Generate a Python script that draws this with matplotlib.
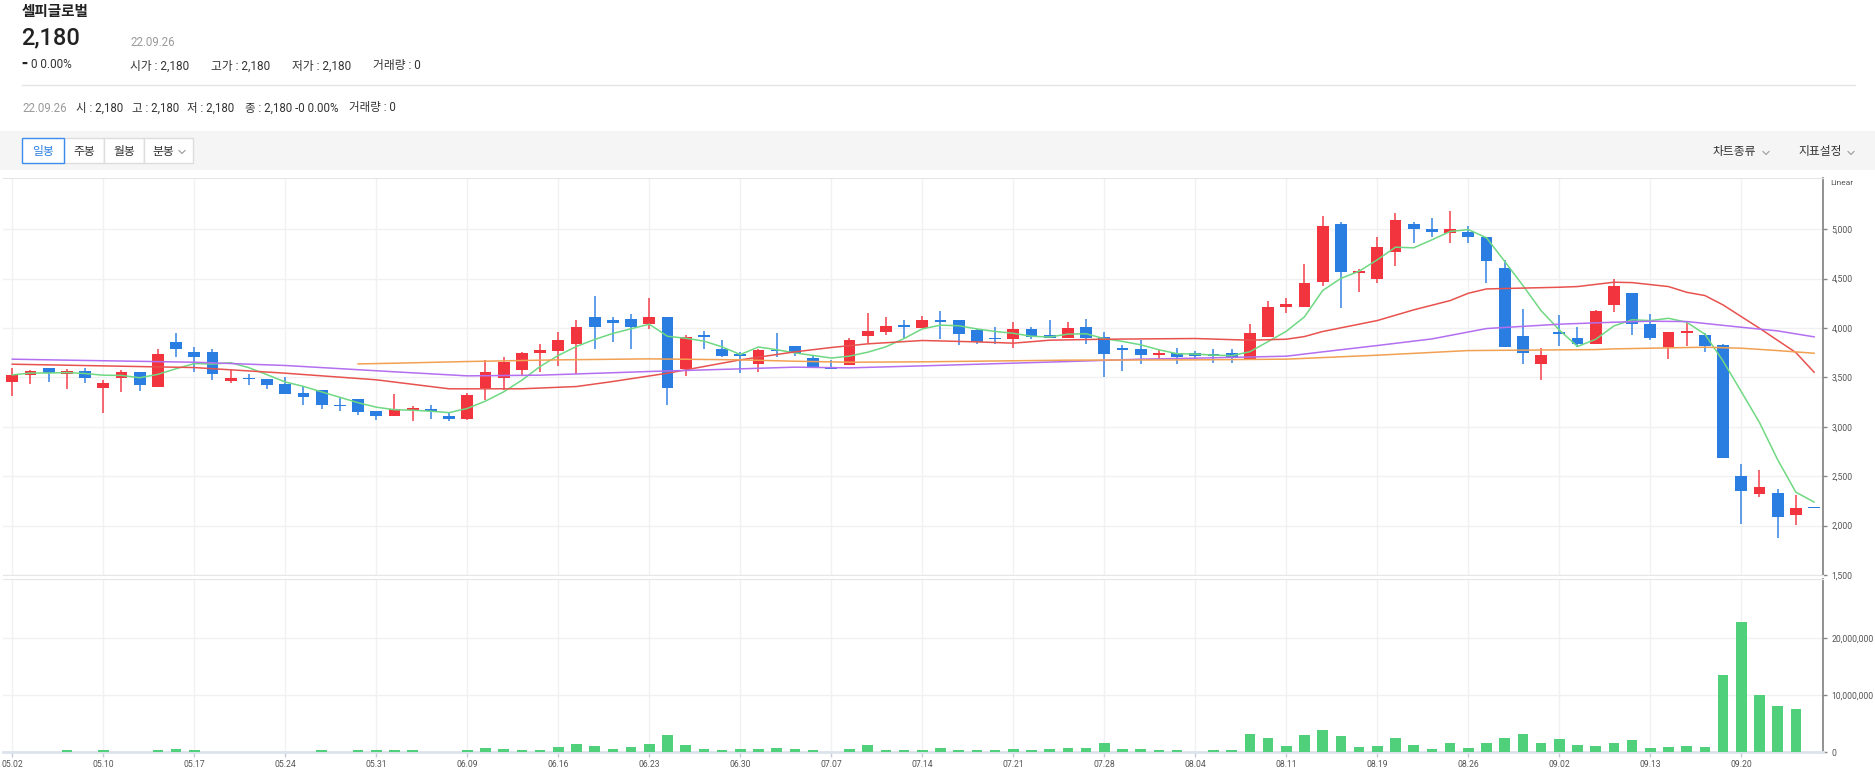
import numpy as np
import pandas as pd
import matplotlib
matplotlib.use('Agg')
import matplotlib.pyplot as plt
from matplotlib.patches import Rectangle
from matplotlib.lines import Line2D
from matplotlib.ticker import FuncFormatter

plt.rcParams['font.family'] = ['Roboto', 'Noto Sans CJK KR', 'DejaVu Sans']
plt.rcParams['axes.unicode_minus'] = False

# ---- data ----
name = '셀피글로벌'
holidays = ['2022-05-05', '2022-06-01', '2022-06-06', '2022-08-15', '2022-09-09', '2022-09-12']
dates = pd.bdate_range('2022-05-02', '2022-09-26', freq='C', holidays=holidays)

opens = [3449, 3520, 3597, 3530, 3563, 3398, 3499, 3553, 3408, 3860,
         3762, 3762, 3462, 3496, 3489, 3435, 3344, 3371, 3226, 3280,
         3162, 3108, 3172, 3182, 3105, 3081, 3395, 3499, 3580, 3745,
         3772, 3840, 4116, 4086, 4089, 4042, 4110, 3587, 3927, 3786,
         3735, 3631, 3779, 3816, 3695, 3600, 3627, 3917, 3965, 4029,
         3998, 4079, 4079, 3978, 3897, 3890, 3988, 3934, 3904, 4008,
         3907, 3796, 3789, 3729, 3749, 3752, 3735, 3745, 3675, 3907,
         4211, 4211, 4470, 5054, 4561, 4501, 4767, 5054, 5007, 4966,
         4973, 4919, 4609, 3917, 3634, 3954, 3904, 3840, 4238, 4359,
         4042, 3806, 3954, 3934, 3826, 2504, 2319, 2329, 2107, 2180]
highs = [3597, 3577, 3597, 3584, 3597, 3476, 3577, 3553, 3789, 3948,
         3813, 3789, 3577, 3530, 3489, 3503, 3418, 3371, 3307, 3280,
         3162, 3337, 3209, 3223, 3145, 3344, 3678, 3705, 3762, 3840,
         3961, 4083, 4325, 4110, 4143, 4309, 4110, 3934, 3971, 3877,
         3759, 3789, 3951, 3816, 3722, 3678, 3900, 4153, 4113, 4083,
         4126, 4174, 4079, 3992, 4012, 4062, 4008, 4083, 4062, 4093,
         3961, 3826, 3880, 3779, 3799, 3772, 3789, 3789, 4046, 4275,
         4309, 4646, 5135, 5071, 4599, 4919, 5165, 5071, 5111, 5185,
         5034, 4919, 4690, 4190, 3799, 4133, 4012, 4184, 4494, 4359,
         4143, 3958, 4062, 3954, 3840, 2626, 2565, 2373, 2312, 2180]
lows = [3317, 3435, 3455, 3388, 3439, 3135, 3348, 3361, 3408, 3708,
        3560, 3479, 3439, 3425, 3381, 3334, 3216, 3176, 3165, 3115,
        3074, 3108, 3064, 3078, 3064, 3074, 3267, 3368, 3526, 3560,
        3611, 3536, 3786, 3863, 3786, 3992, 3216, 3519, 3783, 3702,
        3540, 3553, 3702, 3712, 3594, 3590, 3624, 3850, 3931, 3897,
        3998, 3894, 3833, 3843, 3843, 3796, 3894, 3897, 3904, 3843,
        3509, 3570, 3641, 3685, 3634, 3685, 3644, 3651, 3675, 3907,
        4157, 4211, 4427, 4207, 4362, 4460, 4629, 4865, 4919, 4858,
        4858, 4460, 3809, 3634, 3476, 3823, 3806, 3840, 4160, 3934,
        3880, 3691, 3823, 3762, 2680, 2012, 2285, 1877, 2002, 2180]
closes = [3526, 3563, 3546, 3563, 3499, 3442, 3553, 3428, 3735, 3783,
          3702, 3530, 3496, 3482, 3428, 3334, 3307, 3216, 3209, 3155,
          3108, 3179, 3189, 3159, 3084, 3320, 3550, 3658, 3749, 3776,
          3880, 4008, 4008, 4056, 4012, 4110, 3398, 3907, 3911, 3722,
          3722, 3779, 3769, 3749, 3594, 3590, 3877, 3968, 4019, 4015,
          4079, 4066, 3938, 3857, 3887, 3988, 3914, 3900, 4005, 3904,
          3739, 3776, 3729, 3752, 3705, 3722, 3722, 3702, 3951, 4217,
          4244, 4454, 5034, 4565, 4578, 4824, 5091, 5003, 4969, 5000,
          4922, 4676, 3809, 3749, 3725, 3944, 3840, 4170, 4427, 4039,
          3900, 3958, 3971, 3820, 2680, 2353, 2393, 2086, 2180, 2180]
volumes = [0.06, 0.03, 0.05, 0.29, 0.06, 0.35, 0.06, 0.06, 0.29, 0.53,
           0.29, 0.06, 0.06, 0.06, 0.06, 0.06, 0.06, 0.29, 0.06, 0.29,
           0.29, 0.35, 0.29, 0.06, 0.06, 0.35, 0.64, 0.47, 0.35, 0.35,
           0.82, 1.35, 1.00, 0.47, 0.82, 1.46, 2.93, 1.17, 0.47, 0.29,
           0.47, 0.47, 0.64, 0.50, 0.35, 0.05, 0.47, 1.17, 0.35, 0.35,
           0.35, 0.64, 0.35, 0.29, 0.35, 0.47, 0.35, 0.47, 0.64, 0.64,
           1.64, 0.47, 0.47, 0.29, 0.29, 0.05, 0.29, 0.35, 3.10, 2.40,
           1.00, 2.93, 3.80, 2.75, 0.82, 1.00, 2.40, 1.17, 0.47, 1.52,
           0.64, 1.52, 2.40, 3.20, 1.64, 2.20, 1.17, 1.00, 1.50, 2.05,
           0.65, 0.82, 1.00, 0.82, 13.45, 22.75, 9.95, 8.07, 7.49, 0.0]  # millions

# moving averages (day index, value)
ma20_day = [0, 5, 10, 15, 20, 24, 28, 31, 33, 36, 40, 43, 45, 47, 50, 53, 55, 57, 60,
            65, 68, 70, 71, 72, 75, 77, 79, 80, 81, 85, 86, 88, 89, 91, 92, 93, 94, 96, 98, 99]
ma20_val = [3634, 3617, 3600, 3543, 3476, 3385, 3385, 3408, 3459, 3543, 3678, 3759, 3803,
            3840, 3874, 3860, 3847, 3877, 3887, 3894, 3877, 3887, 3914, 3965, 4076, 4184,
            4278, 4352, 4396, 4413, 4420, 4464, 4460, 4420, 4362, 4329, 4234, 3998, 3752, 3553]
ma60_day = [0, 3, 10, 15, 21, 25, 29, 35, 40, 43, 46, 50, 58, 62, 65, 70, 72, 75, 78,
            81, 85, 88, 90, 92, 95, 97, 99]
ma60_val = [3685, 3675, 3654, 3621, 3557, 3516, 3523, 3560, 3587, 3604, 3597, 3617, 3661,
            3685, 3695, 3715, 3759, 3823, 3890, 3995, 4039, 4059, 4069, 4066, 4008, 3971, 3911]
ma120_day = [19, 21, 25, 30, 35, 40, 43, 46, 50, 58, 65, 70, 75, 80, 87, 88, 90, 93, 95, 97, 99]
ma120_val = [3637, 3644, 3661, 3678, 3688, 3678, 3664, 3654, 3658, 3675, 3678, 3685, 3725,
             3772, 3782, 3789, 3796, 3806, 3796, 3772, 3745]

price_ticks = [1500, 2000, 2500, 3000, 3500, 4000, 4500, 5000]
vol_ticks = [0, 10_000_000, 20_000_000]

# ---- figure ----
W, H = 1875, 775
fig = plt.figure(figsize=(W / 100, H / 100), dpi=100)
fig.patch.set_facecolor('white')

RED = '#f2343f'
BLUE = '#2a7de1'
GRID = '#f1f1f3'
LBL = '#555555'


def fx(x):
    return x / W


def fy(y):
    return 1 - y / H


def ftext(x, y, s, **kw):
    kw.setdefault('va', 'center')
    kw.setdefault('ha', 'left')
    fig.text(fx(x), fy(y), s, **kw)


def chevron(x, y):
    fig.add_artist(Line2D([fx(x - 3), fx(x), fx(x + 3)], [fy(y - 1.5), fy(y + 1.5), fy(y - 1.5)],
                          color='#9a9a9a', lw=0.8))


# header
ftext(22, 12, name, fontsize=10.5, color='#222222', fontweight='bold')
ftext(21, 38, '2,180', fontsize=17, color='#222222', fontweight='medium')
ftext(130, 42, '22.09.26', fontsize=8.3, color='#9a9a9a')
ftext(21, 63, '▬', fontsize=4.5, color='#222222', family='DejaVu Sans')
ftext(31, 64, '0 0.00%', fontsize=8.5, color='#333333')
for x, s in [(130, '시가 : 2,180'), (211, '고가 : 2,180'), (292, '저가 : 2,180'), (373, '거래량 : 0')]:
    ftext(x, 66, s, fontsize=8.5, color='#333333')
fig.add_artist(Line2D([fx(22), fx(1855)], [fy(85), fy(85)], color='#e4e4e4', lw=1))
ftext(22, 108, '22.09.26', fontsize=8.3, color='#9a9a9a')
for x, s in [(76, '시 : 2,180'), (132, '고 : 2,180'), (187, '저 : 2,180'),
             (245, '종 : 2,180 -0 0.00%'), (349, '거래량 : 0')]:
    ftext(x, 108, s, fontsize=8.3, color='#333333')

# toolbar
fig.add_artist(Rectangle((0, fy(170)), 1, (170 - 131) / H, transform=fig.transFigure,
                         facecolor='#f5f5f5', edgecolor='none', zorder=0))
buttons = [(22, 64, '일봉'), (64, 104, '주봉'), (104, 144, '월봉'), (144, 193, '분봉')]
for i, (x0, x1, s) in enumerate(buttons):
    ec = '#3b8ced' if i == 0 else '#dddddd'
    fig.add_artist(Rectangle((fx(x0), fy(163)), (x1 - x0) / W, 25 / H, transform=fig.transFigure,
                             facecolor='white', edgecolor=ec, lw=1, zorder=1 if i else 2))
    col = '#2d7fe0' if i == 0 else '#333333'
    if s == '분봉':
        ftext(152, 151, s, fontsize=8.5, color=col)
        chevron(182, 152)
    else:
        ftext((x0 + x1) / 2, 151, s, fontsize=8.5, color=col, ha='center')
ftext(1713, 152, '차트종류', fontsize=8.5, color='#333333')
chevron(1766, 153)
ftext(1798, 152, '지표설정', fontsize=8.5, color='#333333')
chevron(1851, 153)

# ---- axes ----
ax = fig.add_axes([fx(3), fy(575), (1823 - 3) / W, (575 - 178) / H])
axv = fig.add_axes([fx(3), fy(752), (1823 - 3) / W, (752 - 579) / H], sharex=ax)

x = np.arange(len(closes))
o = np.array(opens)
c = np.array(closes)
hi = np.array(highs)
lo = np.array(lows)
colors = [RED if cc > oo else BLUE for oo, cc in zip(o, c)]

# wicks and bodies
ax.vlines(x, lo, hi, colors=colors, lw=1.3, alpha=0.8, zorder=3)
body_bottom = np.minimum(o, c)
body_h = np.maximum(np.abs(c - o), 12)
ax.bar(x, body_h, bottom=body_bottom, width=0.64, color=colors, edgecolor='none', zorder=4)

# moving averages
ma5 = pd.Series(closes).rolling(5, min_periods=1).mean()
ax.plot(x, ma5, color='#6fd882', lw=1.1, zorder=5)
ax.plot(ma20_day, ma20_val, color='#e8524e', lw=1.1, zorder=5)
ax.plot(ma60_day, ma60_val, color='#b36ff0', lw=1.1, zorder=5)
ax.plot(ma120_day, ma120_val, color='#f2a052', lw=1.1, zorder=5)

ax.set_xlim(-0.51, 99.49)
ax.set_ylim(1500, 5519)

# volume
axv.bar(x, np.array(volumes) * 1e6, width=0.58, color='#50d07b', edgecolor='none', zorder=3)
axv.set_ylim(0, 30.3e6)

comma = FuncFormatter(lambda v, p: f'{int(v):,}')
for a, ticks in [(ax, price_ticks), (axv, vol_ticks)]:
    a.set_facecolor('white')
    a.yaxis.tick_right()
    a.set_yticks(ticks)
    a.yaxis.set_major_formatter(comma)
    a.tick_params(axis='y', direction='out', length=3, width=1, color='#888888',
                  labelsize=6.2, labelcolor=LBL, pad=3)
    a.spines['left'].set_visible(False)
    a.spines['right'].set_color('#888888')
    a.spines['right'].set_linewidth(1.3)
    a.spines['top'].set_color('#e6e6e6')
    a.grid(True, color=GRID, lw=1, zorder=0)
    a.set_axisbelow(True)

ax.spines['bottom'].set_color('#e6e6e6')
ax.tick_params(axis='x', length=0, labelbottom=False)
ax.text(1.004, 0.995, 'Linear', transform=ax.transAxes, fontsize=6, color=LBL, va='top', ha='left')

tick_idx = list(range(0, len(dates), 5))
axv.set_xticks(tick_idx)
axv.set_xticklabels([dates[i].strftime('%m.%d') for i in tick_idx])
axv.tick_params(axis='x', direction='out', length=3.5, width=1, color='#c5cbd6',
                labelsize=6.2, labelcolor=LBL, pad=2)
axv.spines['bottom'].set_color('#dde3ec')
axv.spines['bottom'].set_linewidth(2)

fig.savefig('out.png', dpi=100, facecolor='white')
